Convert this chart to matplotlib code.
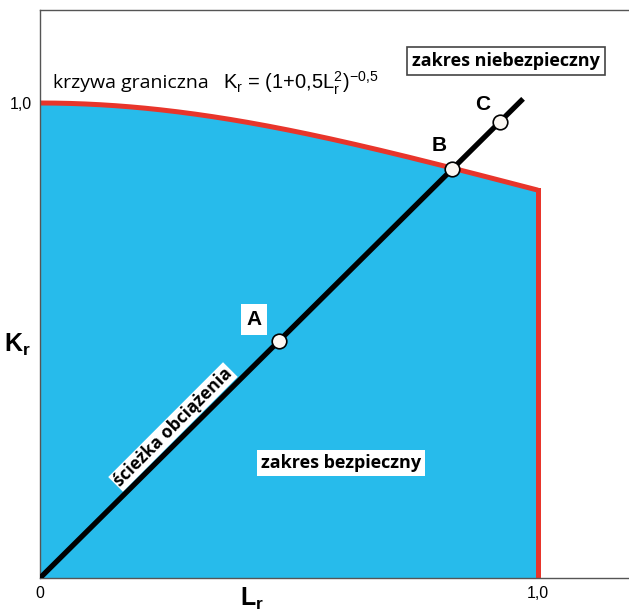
import numpy as np
import matplotlib
matplotlib.use("Agg")
import matplotlib.pyplot as plt

# data
lr_max = 1.0
load_slope = 1.04
line_end = 0.970
points = {"A": 0.480, "B": 0.827, "C": 0.924}
label_off = {"A": (-0.05, 0.045), "B": (-0.025, 0.050), "C": (-0.035, 0.036)}

lr = np.linspace(0, lr_max, 200)
kr = (1 + 0.5 * lr**2) ** -0.5

W, H = 629, 612
fig = plt.figure(figsize=(W/100, H/100), dpi=100)
ax = fig.add_axes([40/W, 34/H, 589/W, 568/H])
ax.set_xlim(0, 589/498)
ax.set_ylim(0, 568/475)

blue = "#27BBEB"
red = "#E8352B"
ax.fill_between(lr, 0, kr, color=blue, zorder=1, linewidth=0)
ax.plot(lr, kr, color=red, lw=3.6, zorder=2, solid_capstyle="butt")
ax.plot([lr_max, lr_max], [0, kr[-1]], color=red, lw=3.6, zorder=2, solid_capstyle="projecting")

# load path
ax.plot([0, line_end], [0, load_slope*line_end], color="black", lw=3.8, zorder=3, solid_capstyle="butt")
for name, x in points.items():
    y = load_slope * x
    ax.plot(x, y, "o", ms=10.5, mfc="#FBF7F2", mec="black", mew=1.2, zorder=4)
    dx, dy = label_off[name]
    ax.text(x+dx, y+dy, name, fontsize=15, fontweight="bold", family="Liberation Sans",
            ha="center", va="center", zorder=5,
            bbox=dict(facecolor="white", edgecolor="none", pad=4) if name == "A" else None)

ax.text(0.267, 0.318, "ścieżka obciążenia", rotation=45, rotation_mode="anchor",
        fontsize=12.5, fontweight="bold", family="Open Sans", ha="center", va="center", zorder=5,
        bbox=dict(facecolor="white", edgecolor="none", pad=1.0))

ax.text(0.604, 0.242, "zakres bezpieczny", fontsize=13, fontweight="bold", family="Open Sans",
        ha="center", va="center", zorder=5,
        bbox=dict(facecolor="white", edgecolor="none", pad=3))
ax.text(0.936, 1.088, "zakres niebezpieczny", fontsize=13, fontweight="bold", family="Open Sans",
        ha="center", va="center", zorder=5,
        bbox=dict(facecolor="white", edgecolor="#444444", lw=1.2, pad=3.5))

ax.text(0.026, 1.042, "krzywa graniczna", fontsize=14, family="Open Sans", ha="left", va="center")
ax.text(0.367, 1.042, r"$\mathregular{K_r}$ = (1+0,5$\mathregular{L_r^2}$)$\mathregular{^{-0{,}5}}$",
        fontsize=14.5, family="Liberation Sans", ha="left", va="center")

ax.spines["right"].set_visible(False)
for s in ["left", "top", "bottom"]:
    ax.spines[s].set_color("#555555")
    ax.spines[s].set_linewidth(1.0)
ax.set_xticks([0, 1.0])
ax.set_xticklabels(["0", "1,0"], fontsize=11.5, family="Liberation Sans")
ax.set_yticks([1.0])
ax.set_yticklabels(["1,0"], fontsize=11.5, family="Liberation Sans")
ax.tick_params(length=0, pad=6)

fig.text(240/W, (H-606)/H, r"$\mathregular{L_r}$", fontsize=18, fontweight="bold",
         family="Liberation Sans", ha="left", va="baseline")
fig.text(4/W, (H-352)/H, r"$\mathregular{K_r}$", fontsize=18, fontweight="bold",
         family="Liberation Sans", ha="left", va="baseline")

fig.savefig("out.png", dpi=100)
